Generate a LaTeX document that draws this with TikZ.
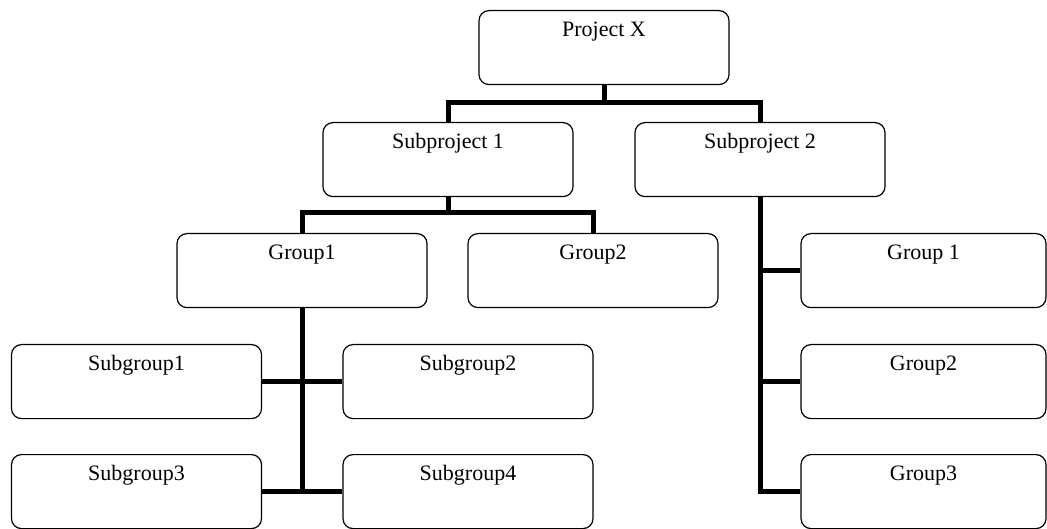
\documentclass[tikz,border=0pt]{standalone}
\usepackage{fontspec}
\setmainfont{Liberation Serif}
\begin{document}
\begin{tikzpicture}[x=1pt,y=-1pt,
  orgbox/.style={draw=black, line width=1.2pt, rounded corners=10pt,
    minimum width=250pt, inner xsep=0pt, inner ysep=0pt,
    text height=26pt, text depth=48pt, anchor=north,
    font=\fontsize{22}{26}\selectfont},
  sidebox/.style={orgbox, minimum width=245pt},
  conn/.style={draw=black, line width=5pt, line join=miter}]
\useasboundingbox (0,0) rectangle (1047,529);

% top level
\node[orgbox] (px) at (604,10) {Project X};
% second level
\node[orgbox] (sp1) at (448,122) {Subproject 1};
\node[orgbox] (sp2) at (760,122) {Subproject 2};
% groups under subproject 1
\node[orgbox] (g1) at (302,233) {Group1};
\node[orgbox] (g2) at (593,233) {Group2};
% subgroups under group 1
\node[orgbox] (sg1) at (136.5,344) {Subgroup1};
\node[orgbox] (sg2) at (468,344) {Subgroup2};
\node[orgbox] (sg3) at (136.5,454) {Subgroup3};
\node[orgbox] (sg4) at (468,454) {Subgroup4};
% groups under subproject 2
\node[sidebox] (rg1) at (923.5,233) {Group 1};
\node[sidebox] (rg2) at (923.5,344) {Group2};
\node[sidebox] (rg3) at (923.5,454) {Group3};

% bus heights
\coordinate (bus1) at (0,103);
\coordinate (bus2) at (0,213);

% Project X to subprojects
\draw[conn] (px.south) -- (px.south |- bus1);
\draw[conn] (sp1.north) -- (sp1.north |- bus1) -- (sp2.north |- bus1) -- (sp2.north);

% Subproject 1 to its groups
\draw[conn] (sp1.south) -- (sp1.south |- bus2);
\draw[conn] (g1.north) -- (g1.north |- bus2) -- (g2.north |- bus2) -- (g2.north);

% Group1 to subgroups
\draw[conn] (g1.south) -- (g1.south |- sg3.east);
\draw[conn] (sg1.east) -- (sg2.west);
\draw[conn] (sg3.east) -- (sg4.west);

% Subproject 2 to its groups
\draw[conn] (sp2.south) |- (rg3.west);
\draw[conn] (sp2.south |- rg1.west) -- (rg1.west);
\draw[conn] (sp2.south |- rg2.west) -- (rg2.west);
\end{tikzpicture}
\end{document}
